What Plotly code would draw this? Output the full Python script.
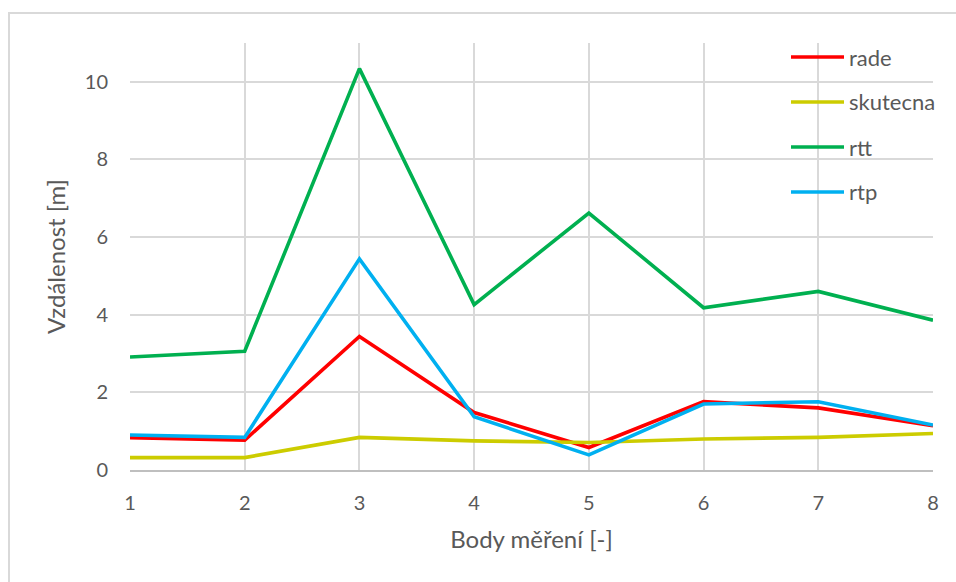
import plotly.graph_objects as go

# Measurement points
body = [1, 2, 3, 4, 5, 6, 7, 8]

# Distances [m] per method
rade = [0.83, 0.77, 3.44, 1.48, 0.58, 1.76, 1.60, 1.14]
skutecna = [0.32, 0.32, 0.84, 0.75, 0.71, 0.80, 0.84, 0.94]
rtt = [2.91, 3.06, 10.34, 4.26, 6.62, 4.18, 4.60, 3.86]
rtp = [0.90, 0.84, 5.44, 1.37, 0.39, 1.70, 1.76, 1.16]

series_names = ["rade", "skutecna", "rtt", "rtp"]
series_values = [rade, skutecna, rtt, rtp]
series_colors = ["#FF0000", "#CCCC00", "#00B050", "#00B0F0"]

y_ticks = [0, 2, 4, 6, 8, 10]

FONT = "Lato, Carlito, Calibri, sans-serif"
TEXT_COLOR = "#595959"
GRID = "#D9D9D9"

W, H = 956, 582
ML, MR, MT, MB = 130, 23, 43, 112
PW = W - ML - MR
PH = H - MT - MB

fig = go.Figure()
for name, vals, col in zip(series_names, series_values, series_colors):
    fig.add_trace(go.Scatter(
        x=body, y=vals, name=name, mode="lines",
        line=dict(color=col, width=3.6),
        showlegend=False,
    ))

# Legend drawn as line samples + labels in the upper right corner
shapes = []
annotations = []
leg_x0, leg_x1 = 791, 844
leg_y0, leg_step = 57, 45
for i, (name, col) in enumerate(zip(series_names, series_colors)):
    yy = leg_y0 + i * leg_step
    py = 1 - (yy - MT) / PH
    shapes.append(dict(
        type="line", xref="paper", yref="paper",
        x0=(leg_x0 - ML) / PW, x1=(leg_x1 - ML) / PW, y0=py, y1=py,
        line=dict(color=col, width=3.6),
    ))
    annotations.append(dict(
        xref="paper", yref="paper", x=(leg_x1 + 3 - ML) / PW, y=py,
        text=name, showarrow=False, xanchor="left", yanchor="middle",
        font=dict(family=FONT, size=22, color=TEXT_COLOR),
    ))

# Chart frame
shapes.append(dict(
    type="rect", xref="paper", yref="paper",
    x0=(9 - ML) / PW, x1=(W + 20 - ML) / PW,
    y0=1 - (H + 20 - MT) / PH, y1=1 - (13 - MT) / PH,
    line=dict(color=GRID, width=2), layer="below",
))

fig.update_layout(
    width=W, height=H,
    margin=dict(l=ML, r=MR, t=MT, b=MB),
    paper_bgcolor="white", plot_bgcolor="white",
    font=dict(family=FONT, color=TEXT_COLOR),
    shapes=shapes, annotations=annotations,
    showlegend=False,
)
fig.update_xaxes(
    range=[1, 8], tickvals=body, ticktext=[str(b) for b in body],
    showgrid=True, gridcolor=GRID, gridwidth=1.5,
    showline=True, linecolor="#BFBFBF", linewidth=1.5,
    zeroline=False, ticks="", ticklabelstandoff=14,
    tickfont=dict(family=FONT, size=20, color=TEXT_COLOR),
    title=dict(text="Body měření [-]", font=dict(family=FONT, size=24, color=TEXT_COLOR), standoff=18),
)
fig.update_yaxes(
    range=[0, 11], tickvals=y_ticks,
    showgrid=True, gridcolor=GRID, gridwidth=1.5,
    showline=False, zeroline=False, ticks="", ticklabelstandoff=21,
    tickfont=dict(family=FONT, size=20, color=TEXT_COLOR),
    title=dict(text="Vzdálenost [m]", font=dict(family=FONT, size=24, color=TEXT_COLOR), standoff=12),
)

fig.write_html("out.html")
